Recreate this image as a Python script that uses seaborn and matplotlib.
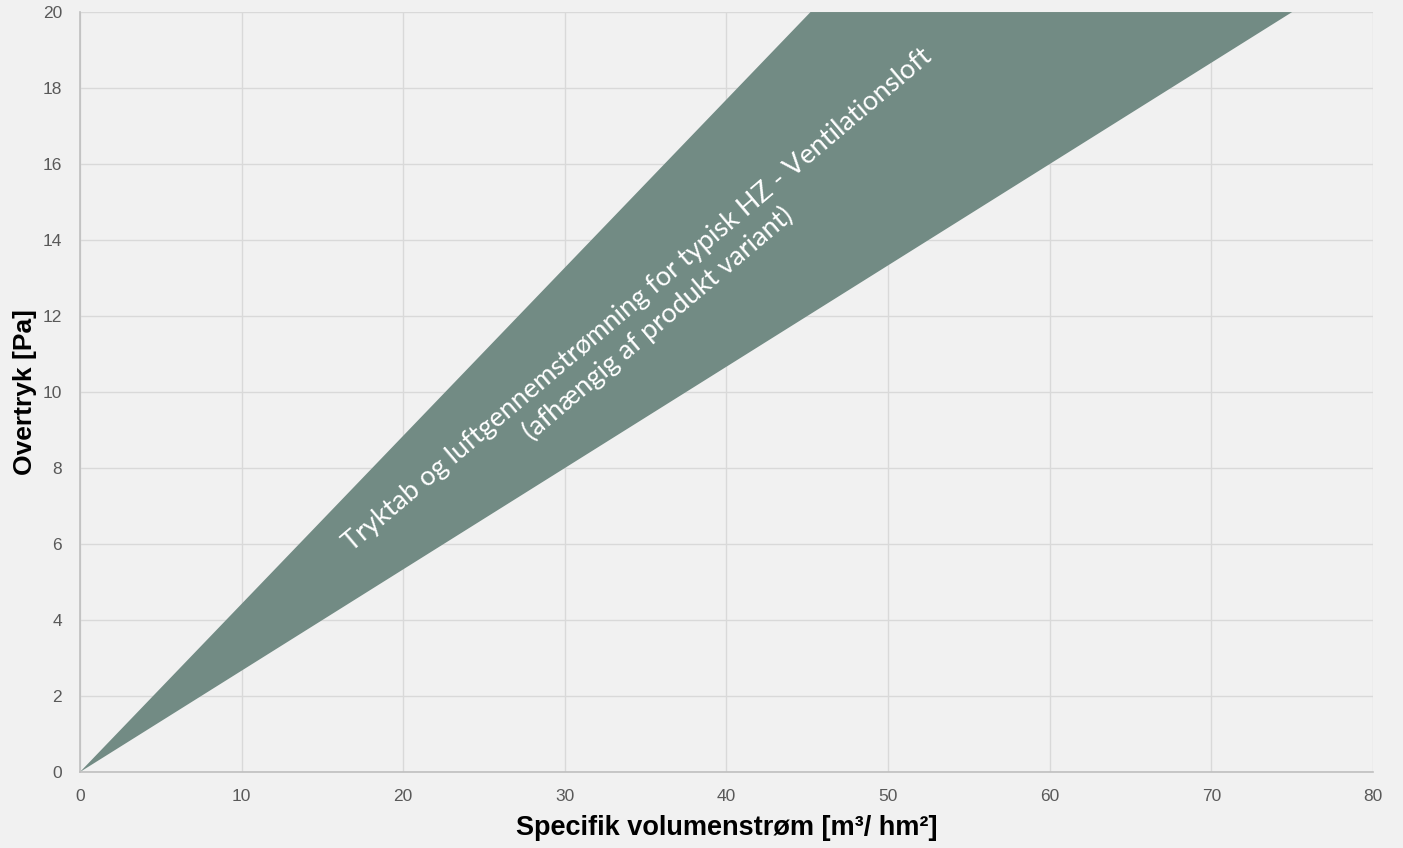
import matplotlib
matplotlib.use('Agg')
import matplotlib.pyplot as plt
import seaborn as sns

# Band outline (x in m3/hm2, y in Pa)
band_x = [0, 45.2, 75.0]
band_y = [0, 20.0, 20.0]

x_ticks = [0, 10, 20, 30, 40, 50, 60, 70, 80]
y_ticks = [0, 2, 4, 6, 8, 10, 12, 14, 16, 18, 20]

band_label = ("Tryktab og luftgennemstrømning for typisk HZ - Ventilationsloft\n"
              "(afhængig af produkt variant)")
label_x, label_y = 35.15, 12.1

bg = '#f1f1f1'
sns.set_theme(style='whitegrid', rc={
    'axes.facecolor': bg,
    'figure.facecolor': bg,
    'grid.color': '#d9d9d9',
    'grid.linewidth': 1.0,
    'axes.edgecolor': '#bfbfbf',
})
plt.rcParams['font.family'] = ['Liberation Sans', 'DejaVu Sans']

fig = plt.figure(figsize=(14.03, 8.48), dpi=100)
ax = fig.add_axes([0.057, 0.0896, 0.9216, 0.8962])

ax.fill(band_x, band_y, color='#728b84', linewidth=0, zorder=2)

ax.set_xlim(0, 80)
ax.set_ylim(0, 20)
ax.set_xticks(x_ticks)
ax.set_yticks(y_ticks)
ax.tick_params(axis='both', length=0, labelsize=12.5, labelcolor='#595959')
ax.tick_params(axis='x', pad=12)
ax.tick_params(axis='y', pad=13)

for side in ['top', 'right']:
    ax.spines[side].set_visible(False)
for side in ['left', 'bottom']:
    ax.spines[side].set_color('#bfbfbf')
    ax.spines[side].set_linewidth(1.2)

ax.set_xlabel('Specifik volumenstrøm [m³/ hm²]', fontsize=19.5, fontweight='bold',
              color='black', labelpad=8)
ax.set_ylabel('Overtryk [Pa]', fontsize=19, fontweight='bold', color='black', labelpad=4)

ax.text(label_x, label_y, band_label, rotation=40.3, rotation_mode='anchor',
        ha='center', va='center', multialignment='center', color='white',
        fontsize=19.5, family=['Lato', 'DejaVu Sans'], fontweight='normal',
        linespacing=1.25, zorder=3)

fig.savefig('out.png', dpi=100, facecolor=bg)
